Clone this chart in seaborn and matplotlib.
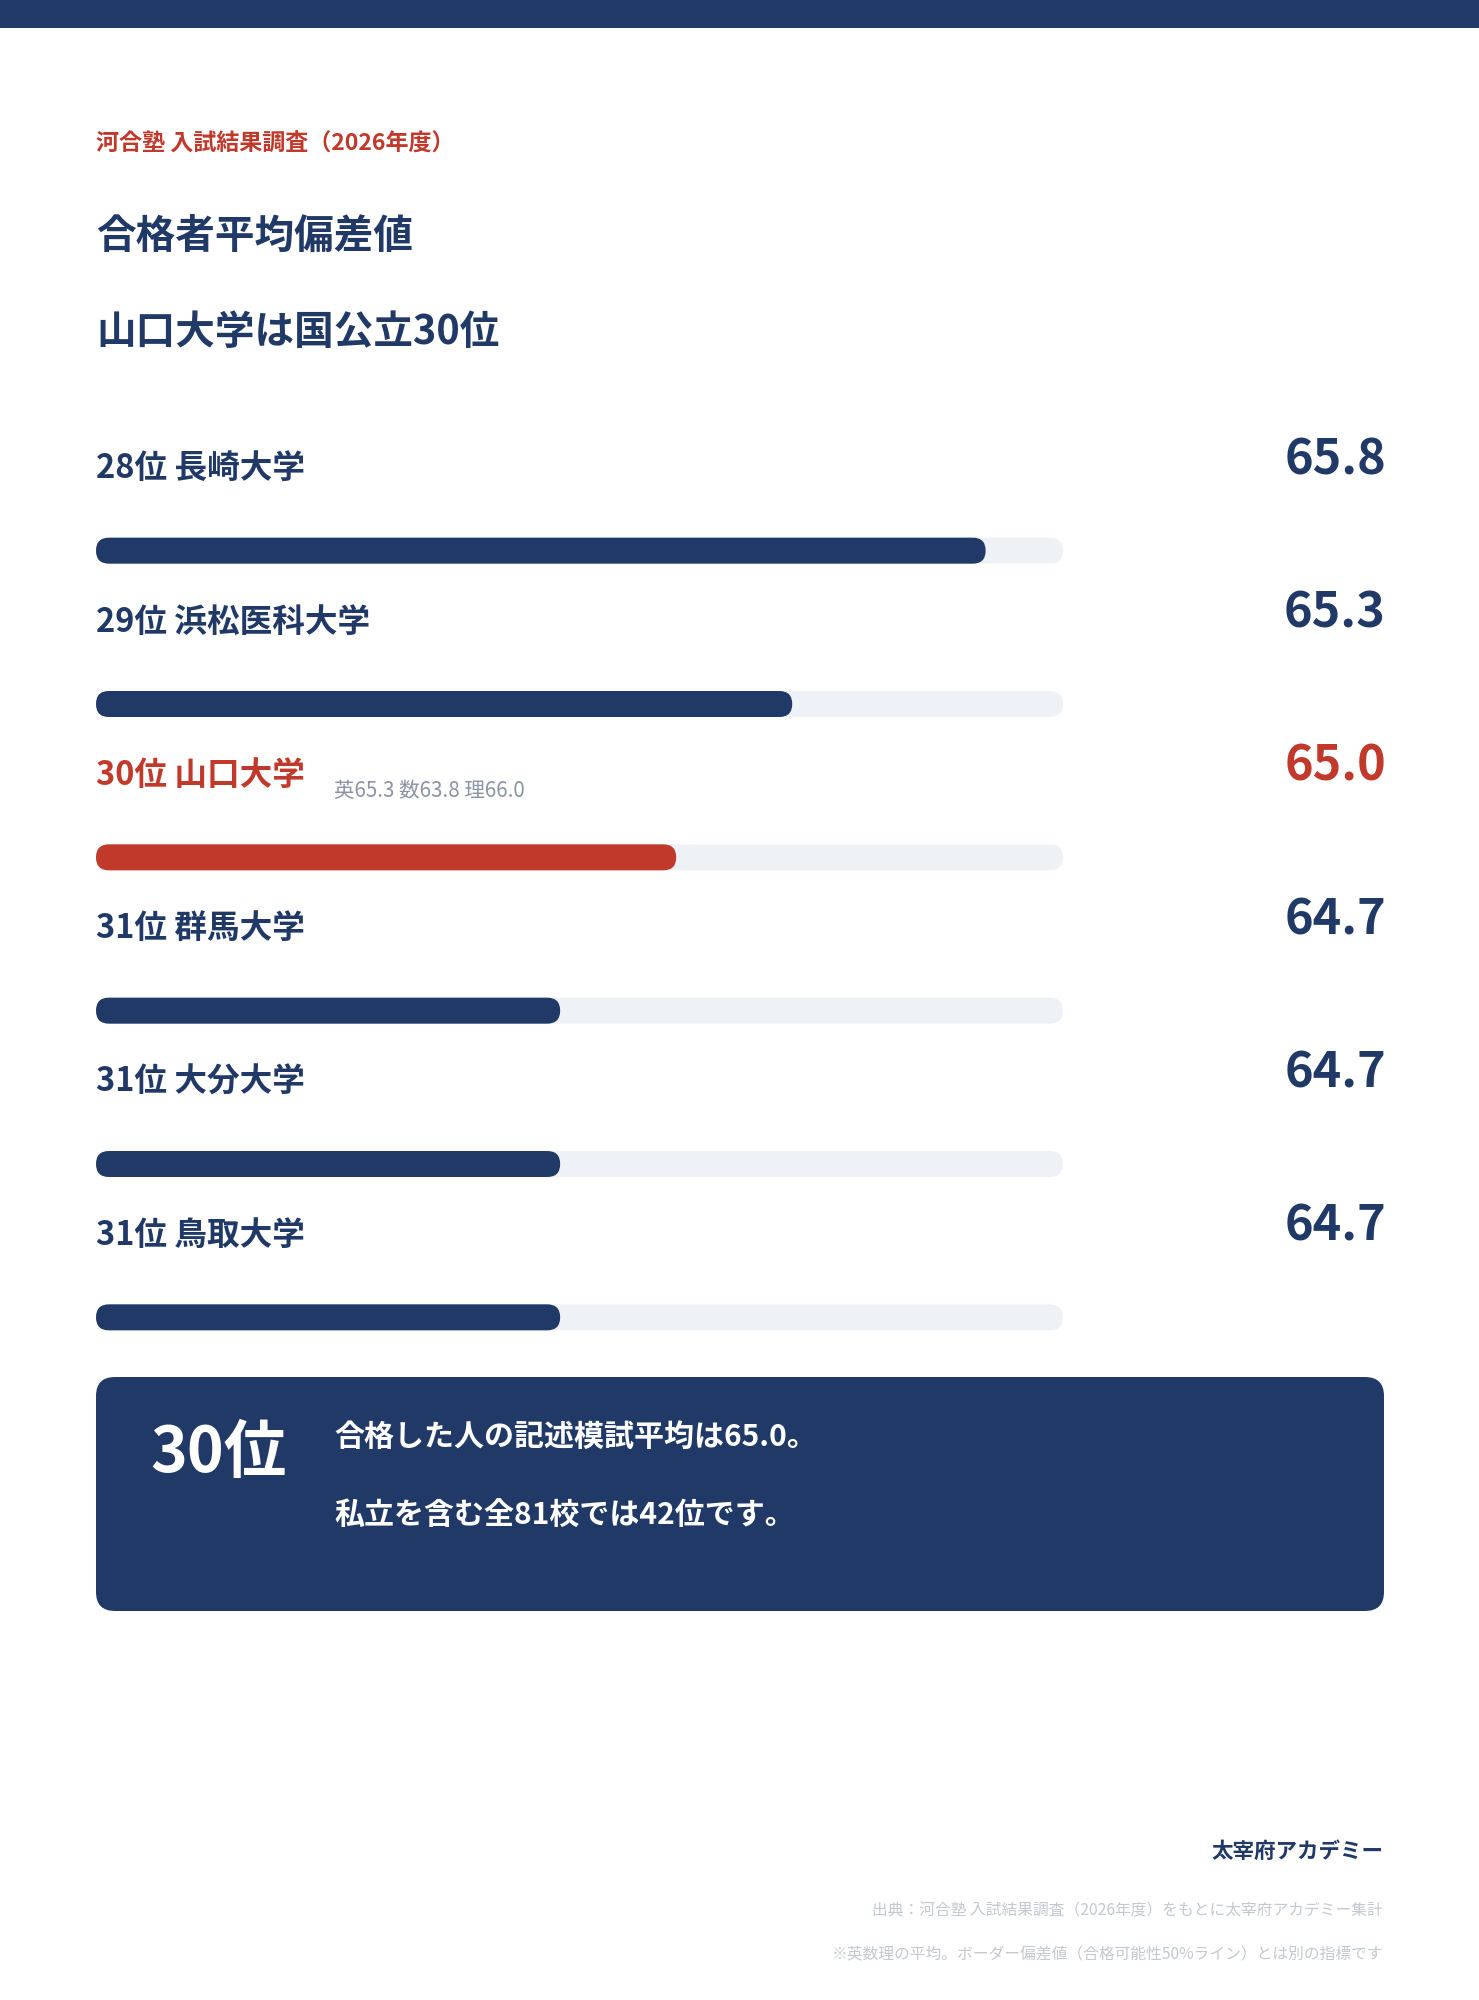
import numpy as np
import pandas as pd
import matplotlib.pyplot as plt
import seaborn as sns
from matplotlib.patches import FancyBboxPatch, Rectangle
from matplotlib import transforms

# Data
names = ["長崎大学", "浜松医科大学", "山口大学", "群馬大学", "大分大学", "鳥取大学"]
ranks = [28, 29, 30, 31, 31, 31]
values = [65.8, 65.3, 65.0, 64.7, 64.7, 64.7]
highlight = "山口大学"
subject_note = "英65.3 数63.8 理66.0"
scale_min = 63.5
scale_max = 66.0

# Colors
NAVY = "#203966"
RED = "#c0392b"
TRACK = "#edf0f7"
GREY = "#8a93a3"
LIGHT = "#c3c8d1"

sns.set_theme(style="white")
plt.rcParams["font.family"] = ["Noto Sans CJK JP", "DejaVu Sans"]

W, H = 1479, 2000
fig = plt.figure(figsize=(W / 100, H / 100), dpi=100)
fig.patch.set_facecolor("white")


def fx(px):
    return px / W


def fy(py):
    return 1 - py / H


# Top band
fig.patches.append(Rectangle((0, fy(28)), 1, 28 / H, transform=fig.transFigure,
                             facecolor=NAVY, edgecolor="none"))

# Header text
fig.text(fx(96), fy(144), "河合塾 入試結果調査（2026年度）", color=RED,
         fontsize=16.6, fontweight="bold", va="center", ha="left")
fig.text(fx(96), fy(236), "合格者平均偏差値", color=NAVY,
         fontsize=28.5, fontweight="bold", va="center", ha="left")
fig.text(fx(96), fy(332), "山口大学は国公立30位", color=NAVY,
         fontsize=28.5, fontweight="bold", va="center", ha="left")

# Bars
df = pd.DataFrame({"name": names, "rank": ranks, "value": values})
df["gap"] = df["value"] - scale_min
df["track"] = scale_max - scale_min

ax = fig.add_axes([fx(96), fy(1394), (1063 - 96) / W, (1394 - 474) / H])
bar_w = 26 / 153.3
sns.barplot(data=df, x="track", y="name", color=TRACK, width=bar_w, ax=ax)
palette = {n: (RED if n == highlight else NAVY) for n in names}
sns.barplot(data=df, x="gap", y="name", hue="name", palette=palette,
            width=bar_w, legend=False, ax=ax, saturation=1)
ax.set_xlim(0, scale_max - scale_min)
ax.set_ylim(len(names) - 0.5, -0.5)
ax.axis("off")

# round the bar ends
fig.canvas.draw()
p0 = ax.transData.transform((0, 0))
sx = abs(ax.transData.transform((1, 0))[0] - p0[0])
sy = abs(ax.transData.transform((0, 1))[1] - p0[1])
for p in list(ax.patches):
    x, y, w, h = p.get_x(), p.get_y(), p.get_width(), p.get_height()
    color = p.get_facecolor()
    z = p.get_zorder()
    p.remove()
    rad = abs(h) * sy / 2
    ax.add_patch(FancyBboxPatch((x, min(y, y + h)), w, abs(h),
                                boxstyle=f"round,pad=0,rounding_size={rad / sx}",
                                mutation_aspect=sx / sy, facecolor=color,
                                edgecolor="none", zorder=z))

label_tr = transforms.blended_transform_factory(ax.transAxes, ax.transData)
value_tr = transforms.blended_transform_factory(fig.transFigure, ax.transData)
for i, row in df.iterrows():
    c = RED if row["name"] == highlight else NAVY
    ax.text(0, i, f"{row['rank']}位 {row['name']}", color=c, fontsize=23.5,
            fontweight="bold", va="center", ha="left", clip_on=False,
            transform=transforms.offset_copy(label_tr, fig=fig, y=82, units="dots"))
    ax.text(fx(1386), i, f"{row['value']:.1f}", color=c, fontsize=35,
            fontweight="bold", va="center", ha="right", clip_on=False,
            transform=transforms.offset_copy(value_tr, fig=fig, y=91, units="dots"))
    if row["name"] == highlight:
        ax.text(fx(334), i, subject_note, color=GREY, fontsize=14.8,
                va="center", ha="left", clip_on=False,
                transform=transforms.offset_copy(value_tr, fig=fig, y=66, units="dots"))

# Summary box
r = 19 / W
fig.patches.append(FancyBboxPatch((fx(96), fy(1611)), (1384 - 96) / W, (1611 - 1377) / H,
                                  boxstyle=f"round,pad=0,rounding_size={r}",
                                  mutation_aspect=W / H, transform=fig.transFigure,
                                  facecolor=NAVY, edgecolor="none"))
fig.text(fx(150), fy(1453), "30位", color="white", fontsize=45,
         fontweight="bold", va="center", ha="left")
fig.text(fx(334), fy(1437), "合格した人の記述模試平均は65.0。", color="white",
         fontsize=21.6, fontweight="bold", va="center", ha="left")
fig.text(fx(334), fy(1516), "私立を含む全81校では42位です。", color="white",
         fontsize=21.6, fontweight="bold", va="center", ha="left")

# Footer
fig.text(fx(1384), fy(1851), "太宰府アカデミー", color=NAVY, fontsize=15.5,
         fontweight="bold", va="center", ha="right")
fig.text(fx(1383), fy(1911), "出典：河合塾 入試結果調査（2026年度）をもとに太宰府アカデミー集計",
         color=LIGHT, fontsize=11.3, va="center", ha="right")
fig.text(fx(1383), fy(1955), "※英数理の平均。ボーダー偏差値（合格可能性50%ライン）とは別の指標です",
         color=LIGHT, fontsize=11.3, va="center", ha="right")

fig.savefig("out.png", dpi=100, facecolor="white")
